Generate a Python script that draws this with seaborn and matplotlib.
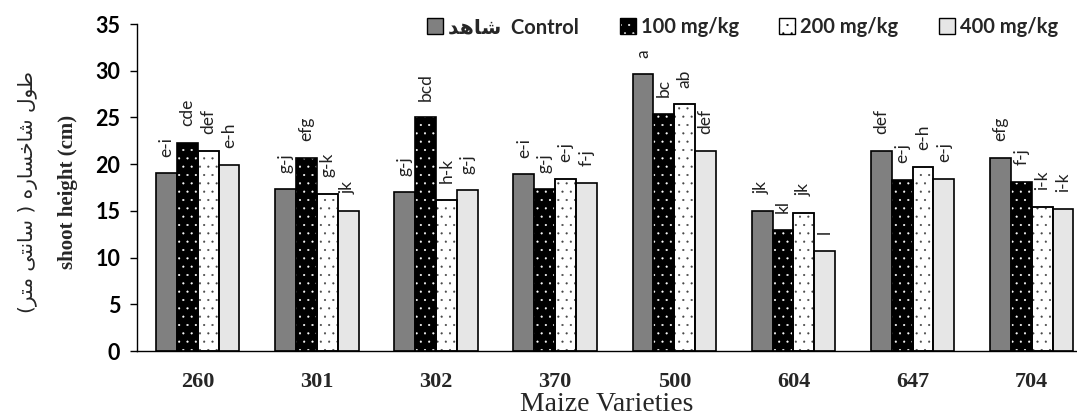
import matplotlib
matplotlib.use('Agg')
import matplotlib.pyplot as plt
from matplotlib.patches import Patch, Rectangle
from matplotlib.legend_handler import HandlerTuple
from matplotlib.font_manager import FontProperties
import numpy as np
import pandas as pd
import seaborn as sns

varieties = ['260', '301', '302', '370', '500', '604', '647', '704']
treatments = ['Control', '100 mg/kg', '200 mg/kg', '400 mg/kg']

control = [19.0, 17.3, 17.0, 18.9, 29.6, 15.0, 21.4, 20.7]
mg100 = [22.3, 20.7, 25.0, 17.3, 25.4, 13.0, 18.3, 18.1]
mg200 = [21.4, 16.8, 16.2, 18.4, 26.4, 14.8, 19.7, 15.4]
mg400 = [19.9, 15.0, 17.2, 18.0, 21.4, 10.7, 18.4, 15.2]

letters_control = ['e-i', 'g-j', 'g-j', 'e-i', 'a', 'jk', 'def', 'efg']
letters_100 = ['cde', 'efg', 'bcd', 'g-j', 'bc', 'kl', 'e-j', 'f-j']
letters_200 = ['def', 'g-k', 'h-k', 'e-j', 'ab', 'jk', 'e-h', 'i-k']
letters_400 = ['e-h', 'jk', 'g-j', 'f-j', 'def', 'l', 'e-j', 'i-k']

# persian text, pre-shaped (presentation forms, visual order)
shahed = '\uFEAA\uFEEB\uFE8E\uFEB7'
fa_ylabel = ('(' + '\uFEAE\uFE98\uFEE3' + ' ' + '\uFEF0\uFE98\uFEE7\uFE8E\uFEB3' + ' ) '
             + '\uFEE9\uFEAD\uFE8E\uFEB4\uFEA7\uFE8E\uFEB7' + ' ' + '\uFEDD\uFEEE\uFEC3')

df = pd.DataFrame({
    'variety': varieties * 4,
    'treatment': np.repeat(treatments, len(varieties)),
    'height': control + mg100 + mg200 + mg400,
})

colors = {'Control': '#808080', '100 mg/kg': '#000000',
          '200 mg/kg': '#ffffff', '400 mg/kg': '#e6e6e6'}

sns.set_theme(style='ticks')
plt.rcParams['font.family'] = ['Lato', 'DejaVu Sans']
plt.rcParams['hatch.linewidth'] = 0.3

fig = plt.figure(figsize=(10.77, 4.19), dpi=100)
ax = fig.add_axes([137 / 1077, 68 / 419, 1 - 137 / 1077, 327 / 419])

sns.barplot(data=df, x='variety', y='height', hue='treatment', hue_order=treatments,
            palette=colors, width=0.7, edgecolor='black', linewidth=1.2,
            errorbar=None, legend=False, ax=ax)

all_letters = [letters_control, letters_100, letters_200, letters_400]
for i, cont in enumerate(ax.containers):
    for p in cont:
        if i == 1:
            p.set_edgecolor('white')
            p.set_linewidth(0)
            p.set_hatch('..')
            ax.add_patch(Rectangle(p.get_xy(), p.get_width(), p.get_height(),
                                   fill=False, ec='black', lw=1.2, zorder=p.get_zorder() + 0.1))
        elif i == 2:
            p.set_hatch('..')
            p.set_edgecolor('#444444')
            ax.add_patch(Rectangle(p.get_xy(), p.get_width(), p.get_height(),
                                   fill=False, ec='black', lw=1.2, zorder=p.get_zorder() + 0.1))
    ax.bar_label(cont, labels=all_letters[i], rotation=90, padding=12,
                 fontsize=12.5, color='#222222', family='Lato')

ax.set_xlim(-0.51, 7.38)
ax.set_ylim(0, 35)
ax.set_yticks(range(0, 36, 5))
sns.despine(ax=ax)
for s in ['left', 'bottom']:
    ax.spines[s].set_linewidth(1.0)
    ax.spines[s].set_color('black')
ax.tick_params(axis='y', length=5, width=1, pad=7, labelsize=15.5, colors='black')
ax.tick_params(axis='x', length=0, pad=15)
for t in ax.get_yticklabels():
    t.set_fontweight('bold')
for t in ax.get_xticklabels():
    t.set_fontfamily('Liberation Serif')
    t.set_fontweight('bold')
    t.set_fontsize(16)
ax.set_xlabel('Maize Varieties', fontsize=20, family='Liberation Serif', labelpad=0)
ax.set_ylabel('')

fig.text(68 / 1077, 0.542, 'shoot height (cm)', rotation=90, ha='center', va='center',
         fontsize=15, fontweight='bold', family='Liberation Serif')
fig.text(28 / 1077, 0.542, fa_ylabel, rotation=90, ha='center', va='center',
         fontsize=14.5, family='DejaVu Sans')

handles = [
    Patch(facecolor=colors['Control'], edgecolor='black'),
    (Patch(facecolor='black', edgecolor='white', hatch='..', lw=0),
     Patch(fill=False, edgecolor='black')),
    Patch(facecolor='white', edgecolor='black', hatch='..'),
    Patch(facecolor=colors['400 mg/kg'], edgecolor='black'),
]
labels = [shahed + '  Control', '100 mg/kg', '200 mg/kg', '400 mg/kg']
fig.legend(handles, labels, ncol=4, loc='center right',
           bbox_to_anchor=(1076 / 1077, 1 - 27 / 419), frameon=False,
           handlelength=0.8, handleheight=0.8, handletextpad=0.25, columnspacing=2.0,
           prop=FontProperties(family=['Lato', 'DejaVu Sans'], weight='bold', size=14.5),
           handler_map={tuple: HandlerTuple(ndivide=1, pad=0)})

fig.savefig('out.png', dpi=100)
